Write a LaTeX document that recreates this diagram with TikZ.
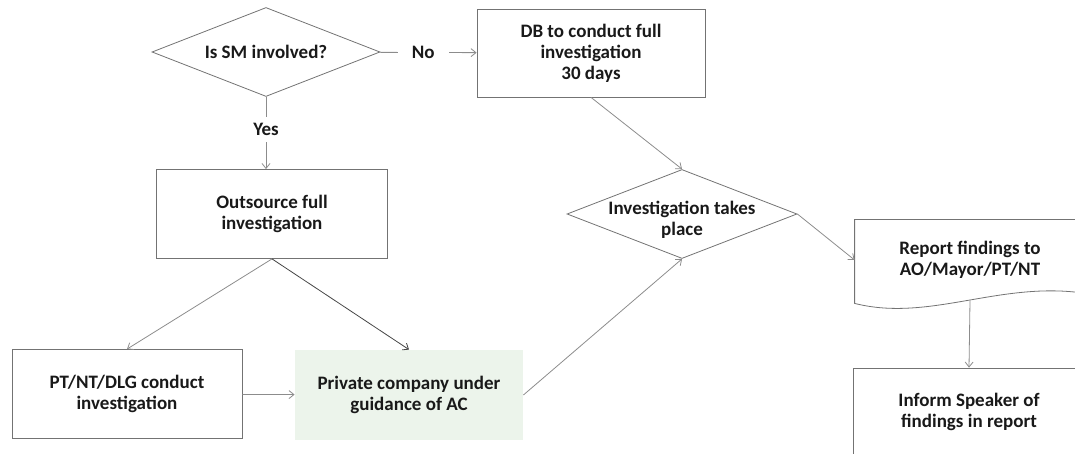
\documentclass[tikz,border=0pt]{standalone}
\usepackage{fontspec}
\setmainfont{Carlito}
\usepackage{tikz}
\usetikzlibrary{shapes.geometric,arrows.meta}
\definecolor{linegray}{RGB}{140,140,140}
\definecolor{boxgray}{RGB}{115,115,115}
\definecolor{darkline}{RGB}{70,70,70}
\definecolor{palegreen}{RGB}{236,244,235}
\definecolor{inkblack}{RGB}{25,25,25}

\begin{document}
\begin{tikzpicture}[>={Straight Barb[length=5pt,width=8pt]}, line width=0.8pt,
  txt/.style={align=center, text=inkblack, font=\fontsize{19}{21}\selectfont\bfseries},
  box/.style={txt, rectangle, draw=boxgray, inner sep=0pt},
  dec/.style={diamond, draw=boxgray, inner sep=0pt},
  lbl/.style={txt, fill=white, inner xsep=14pt, inner ysep=6pt},
  link/.style={->, color=linegray}]
  \useasboundingbox (0pt,0pt) rectangle (1075pt,-454pt);
  \draw (266pt, -52pt)node[dec, minimum width=228pt, minimum height=89pt,
    label={[txt]center:Is SM involved?}](sm){};
  \draw (591pt, -53pt)node[box, minimum width=228pt, minimum height=88pt](db){DB to conduct full\\investigation\\30 days};
  \draw (272pt, -214pt)node[box, minimum width=231pt, minimum height=89pt](out){Outsource full\\investigation};
  \draw (682pt, -214pt)node[dec, minimum width=230pt, minimum height=89pt,
    label={[txt, yshift=-6pt]center:Investigation takes\\place}](inv){};
  \draw (127pt, -394pt)node[box, minimum width=230pt, minimum height=89pt](pt){PT/NT/DLG conduct\\investigation};
  \draw (409pt, -395pt)node[box, draw=none, fill=palegreen, minimum width=228pt, minimum height=90pt](pri){Private company under\\guidance of AC};
  \draw (970pt, -260pt)node[box, draw=none, minimum width=230pt, minimum height=80pt](rep){Report findings to\\AO/Mayor/PT/NT};
  \draw (969pt, -412pt)node[box, minimum width=232pt, minimum height=88pt](inf){Inform Speaker of\\findings in report};
  % document outline with wavy bottom
  \draw[boxgray] (rep.north west) -- (rep.north east) -- ([yshift=7pt]rep.south east)
    .. controls +(-85pt,13pt) and +(75pt,-19pt) .. ([yshift=-3pt]rep.south west) -- cycle;
  \path[link] (sm) edge node[lbl, pos=0.45]{No}(db);
  \path[link] (sm.south) edge node[lbl, pos=0.45]{Yes}(sm.south |- out.north);
  \path[link] (out.south) edge (pt.north);
  \path[link, darkline] (out.south) edge (pri.north);
  \path[link] (pt) edge (pri);
  \path[link] (pri.east) edge (inv.south);
  \path[link] (db.south) edge (inv.north);
  \path[link] (inv.east) edge (rep.west);
  \path[link] (rep.south) edge (inf.north);
\end{tikzpicture}
\end{document}
